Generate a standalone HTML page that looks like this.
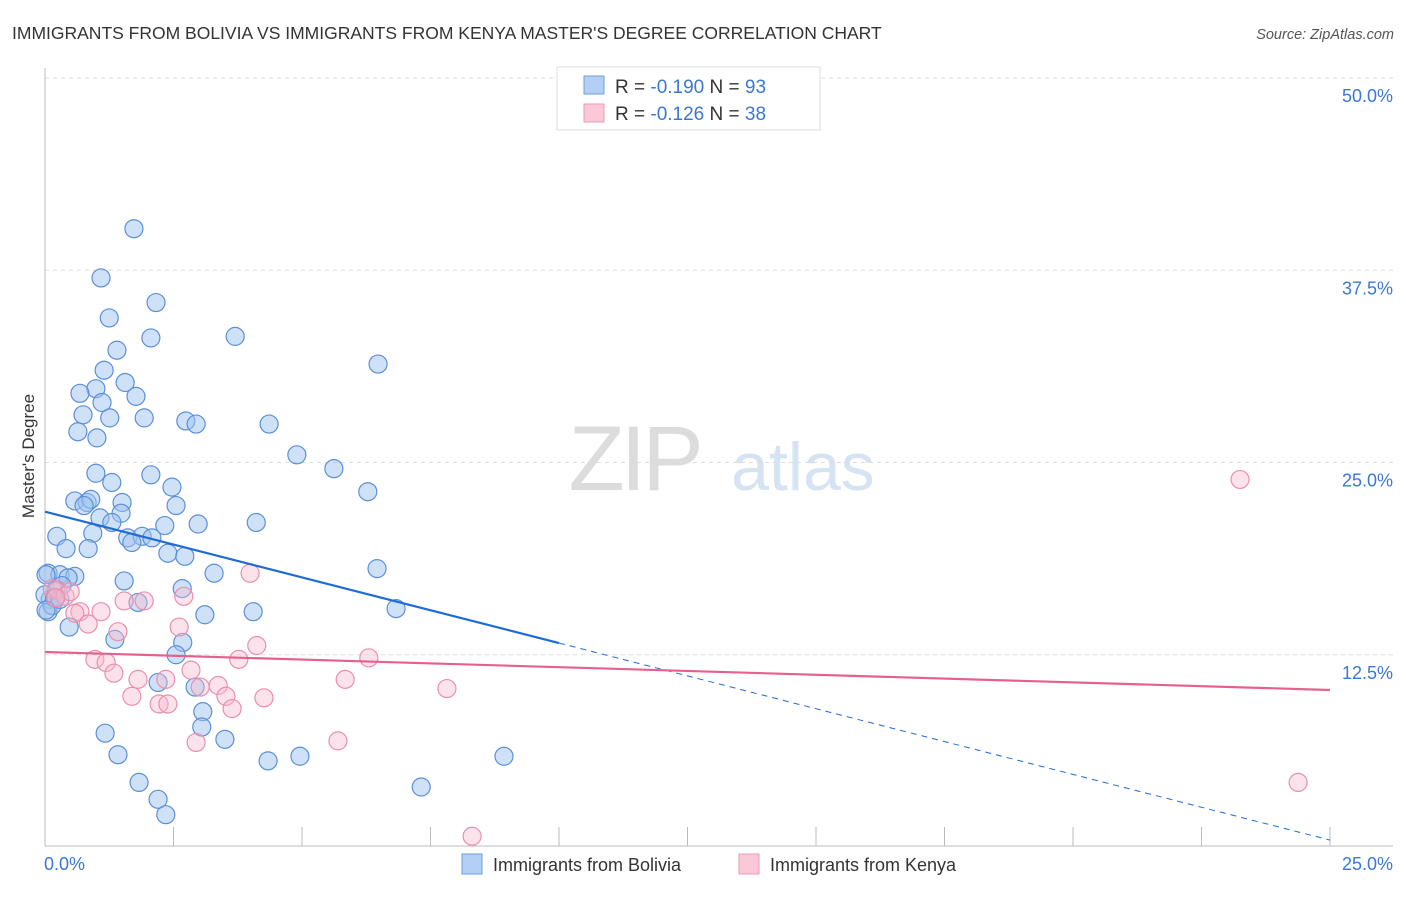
<!DOCTYPE html>
<html><head><meta charset="utf-8"><style>
body{margin:0;background:#fff;font-family:"Liberation Sans",sans-serif;}
svg text{font-family:"Liberation Sans",sans-serif;}
</style></head><body>
<svg id="chart" width="1406" height="892" xmlns="http://www.w3.org/2000/svg">
<text x="12" y="39" font-size="17.5" fill="#333">IMMIGRANTS FROM BOLIVIA VS IMMIGRANTS FROM KENYA MASTER'S DEGREE CORRELATION CHART</text>
<text x="1394" y="39" font-size="14.5" fill="#555" text-anchor="end" font-style="italic">Source: ZipAtlas.com</text>
<g>
<text x="634" y="490" font-size="92" fill="#dcdcdc" text-anchor="middle" font-family="Liberation Serif" letter-spacing="-4">ZIP</text>
<text x="803" y="490" font-size="68" fill="#d6e3f3" text-anchor="middle">atlas</text>
</g>
<g id="grid"></g>
<g id="axes"></g>
<text transform="translate(34,456) rotate(-90)" font-size="17" fill="#333" text-anchor="middle">Master's Degree</text>
<g id="blue"></g>
<g id="pink"></g>
<g id="trends"></g>
<g>
<rect x="557" y="67" width="263" height="63" fill="#fff" stroke="#ddd"/>
<rect x="584" y="76" width="20" height="18" fill="#b3cff3" stroke="#6f9fe0"/>
<rect x="584" y="104" width="20" height="18" fill="#fbc8d8" stroke="#ee9ab4"/>
<text x="615" y="93" font-size="19" fill="#333">R = <tspan fill="#3a78d6">-0.190</tspan>    N = <tspan fill="#3a78d6">93</tspan></text>
<text x="615" y="120" font-size="19" fill="#333">R = <tspan fill="#3a78d6">-0.126</tspan>    N = <tspan fill="#3a78d6">38</tspan></text>
</g>
<g>
<rect x="462" y="854" width="20" height="20" fill="#b3cff3" stroke="#6f9fe0"/>
<text x="493" y="871" font-size="18" fill="#333">Immigrants from Bolivia</text>
<rect x="739" y="854" width="20" height="20" fill="#fbc8d8" stroke="#ee9ab4"/>
<text x="770" y="871" font-size="18" fill="#333">Immigrants from Kenya</text>
</g>
</svg>
<script>
const yTicks=[12.5,25,37.5,50];
const yTickLabels=["12.5%","25.0%","37.5%","50.0%"];
const xTickLabels=["0.0%","25.0%"];
const blueX=[1.73,1.09,2.16,1.25,2.06,3.70,1.40,6.48,1.15,1.56,0.99,0.68,1.77,1.11,0.74,1.26,1.93,2.74,2.94,0.64,1.01,4.36,4.90,5.62,0.99,2.06,6.28,1.30,2.47,0.58,0.82,0.89,0.76,1.50,2.55,1.48,1.07,1.30,2.98,4.11,2.33,0.93,0.23,1.61,1.89,2.08,1.69,0.41,0.84,2.39,2.72,6.46,3.29,0.06,0.29,0.58,0.45,0.33,1.54,0.21,2.67,0.10,1.81,4.05,6.83,3.11,0.47,1.36,2.68,2.55,2.20,2.92,3.07,3.05,1.17,3.50,1.42,4.34,4.96,8.93,1.83,2.20,2.35,7.32,0.06,0.14,0.0,0.19,0.29,0.02,0.02];
const blueY=[40.2,37.0,35.4,34.4,33.1,33.2,32.3,31.4,31.0,30.2,29.8,29.5,29.3,28.9,28.1,27.9,27.9,27.7,27.5,27.0,26.6,27.5,25.5,24.6,24.3,24.2,23.1,23.7,23.4,22.5,22.4,22.6,22.2,22.4,22.2,21.7,21.4,21.1,21.0,21.1,20.9,20.4,20.2,20.1,20.2,20.1,19.8,19.4,19.4,19.1,18.9,18.1,17.8,17.8,17.7,17.6,17.5,17.0,17.3,16.7,16.8,16.1,15.9,15.3,15.5,15.1,14.3,13.5,13.3,12.5,10.7,10.4,8.8,7.8,7.4,7.0,6.0,5.6,5.9,5.9,4.2,3.1,2.1,3.9,15.3,15.7,16.4,16.2,16.1,15.4,17.7];
const pinkX=[3.99,2.70,1.93,1.54,0.14,0.25,0.39,0.49,0.21,0.68,1.09,0.58,0.84,1.42,2.61,4.12,0.97,1.19,1.34,2.84,1.81,2.35,3.77,6.30,5.84,7.82,1.69,2.22,2.39,3.02,3.37,3.52,3.64,4.26,2.94,5.70,8.31,23.25,24.38];
const pinkY=[17.8,16.3,16.0,16.0,16.8,16.7,16.3,16.6,16.2,15.3,15.3,15.2,14.5,14.0,14.3,13.1,12.2,12.0,11.3,11.5,10.9,10.9,12.2,12.3,10.9,10.3,9.8,9.3,9.3,10.4,10.5,9.8,9.0,9.7,6.8,6.9,0.7,23.9,4.2];
const blueTrend=[21.8,0.45];   // y at x=0 and x=25
const pinkTrend=[12.68,10.21];
const blueSolidEnd=10;

const NS="http://www.w3.org/2000/svg";
const X0=45,X1=1330,Y0=847,YPX=15.38;
const sx=v=>X0+(X1-X0)*v/25, sy=v=>Y0-v*YPX;
function mk(tag,attrs,parent){const e=document.createElementNS(NS,tag);for(const k in attrs)e.setAttribute(k,attrs[k]);parent.appendChild(e);return e;}
const grid=document.getElementById('grid'),axes=document.getElementById('axes');
yTicks.forEach((t,i)=>{
  const g=mk('line',{x1:X0,x2:1393,y1:sy(t),y2:sy(t),stroke:'#ddd','stroke-dasharray':'4,4'},grid);
  
  
  const tx=mk('text',{x:1393,y:sy(t)+24,'font-size':18,fill:'#3a78d6','text-anchor':'end'},axes);
  tx.textContent=yTickLabels[i];
  
  
});
mk('line',{x1:X0,x2:X0,y1:68,y2:846,stroke:'#bbb'},axes);
mk('line',{x1:X0,x2:1393,y1:846,y2:846,stroke:'#bbb'},axes);
for(let i=1;i<=10;i++){const x=sx(i*2.5);mk('line',{x1:x,x2:x,y1:827,y2:846,stroke:'#bbb'},axes);}
const xl0=mk('text',{x:44,y:870,'font-size':18,fill:'#3a78d6'},axes);xl0.textContent=xTickLabels[0];


const xl1=mk('text',{x:1393,y:870,'font-size':18,fill:'#3a78d6','text-anchor':'end'},axes);xl1.textContent=xTickLabels[1];


const bg=document.getElementById('blue'),pg=document.getElementById('pink');
blueX.forEach((v,i)=>{const c=mk('circle',{cx:sx(v),cy:sy(blueY[i]),r:9,fill:'rgba(160,196,240,0.5)',stroke:'#5b8fd9','stroke-width':1.2},bg);
  
  });
pinkX.forEach((v,i)=>{const c=mk('circle',{cx:sx(v),cy:sy(pinkY[i]),r:9,fill:'rgba(248,184,204,0.4)',stroke:'#ea8fac','stroke-width':1.2},pg);
  
  });
const tg=document.getElementById('trends');
const by=x=>blueTrend[0]+(blueTrend[1]-blueTrend[0])*x/25;
const l1=mk('line',{x1:sx(0),y1:sy(by(0)),x2:sx(blueSolidEnd),y2:sy(by(blueSolidEnd)),stroke:'#1f6bd6','stroke-width':2.2},tg);


const l2=mk('line',{x1:sx(blueSolidEnd),y1:sy(by(blueSolidEnd)),x2:sx(25),y2:sy(by(25)),stroke:'#1f6bd6','stroke-width':1,'stroke-dasharray':'6,5'},tg);


const l3=mk('line',{x1:sx(0),y1:sy(pinkTrend[0]),x2:sx(25),y2:sy(pinkTrend[1]),stroke:'#e6608c','stroke-width':2.2},tg);


</script>
</body></html>
